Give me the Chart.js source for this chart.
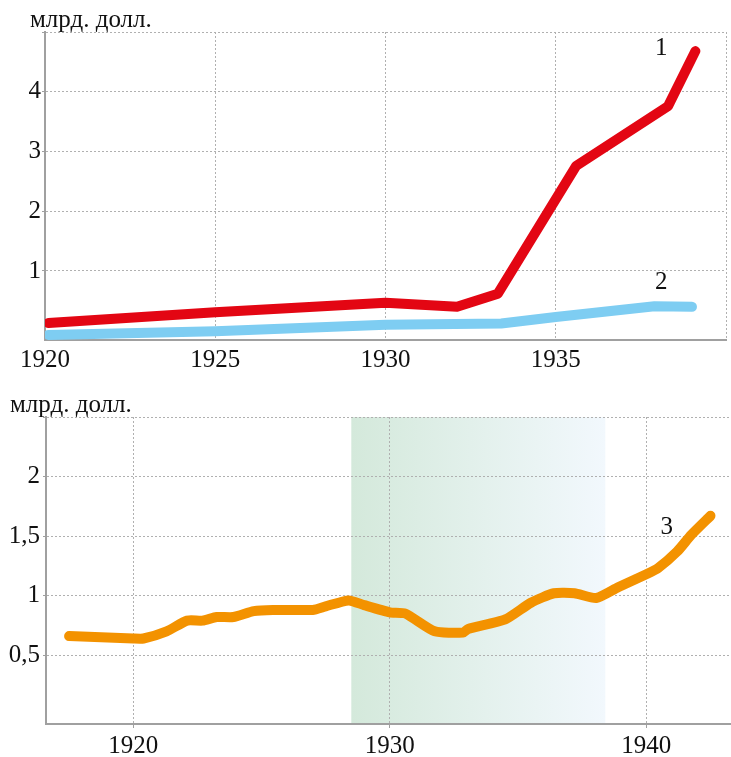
<!DOCTYPE html>
<html>
<head>
<meta charset="utf-8">
<script src="https://cdn.jsdelivr.net/npm/chart.js@4/dist/chart.umd.min.js"></script>
<style>
  body { margin: 0; background: #fff; }
  #wrap { position: relative; width: 731px; height: 757px; }
  #top { position: absolute; left: 0; top: 0; }
  #bottom { position: absolute; left: 0; top: 380px; }
</style>
</head>
<body>
<div id="wrap">
  <canvas id="top" width="731" height="380"></canvas>
  <canvas id="bottom" width="731" height="377"></canvas>
</div>
<script>
// top chart: series 1 (red) and 2 (blue)
const years1 = [1920.1, 1925, 1930, 1932.1, 1933.3, 1935.6, 1938.3, 1939.1];
const values1 = [0.13, 0.31, 0.47, 0.40, 0.62, 2.76, 3.76, 4.68];
const years2 = [1920.1, 1925, 1930, 1933.4, 1935, 1937.9, 1939.0];
const values2 = [-0.07, -0.01, 0.10, 0.12, 0.23, 0.41, 0.40];
const topXTicks = [1920, 1925, 1930, 1935, 1940];
const topYTicks = [1, 2, 3, 4, 5];

// bottom chart: series 3 (orange)
const years3 = [1917.5, 1920, 1920.4, 1921.3, 1922.1, 1922.7, 1923.25, 1923.9, 1924.7, 1925.45,
  1927.0, 1927.5, 1928.4, 1929.0, 1930.0, 1930.6, 1931.75, 1932.86, 1933.05, 1934.5,
  1935.5, 1936.4, 1937.2, 1938.05, 1938.9, 1940.0, 1940.45, 1941.2, 1941.75, 1942.5];
const values3 = [0.66, 0.64, 0.64, 0.70, 0.79, 0.79, 0.82, 0.82, 0.87, 0.88,
  0.88, 0.91, 0.96, 0.92, 0.86, 0.85, 0.70, 0.69, 0.72, 0.80,
  0.94, 1.02, 1.02, 0.98, 1.07, 1.18, 1.23, 1.37, 1.51, 1.67];
const bottomXTicks = [1920, 1930, 1940];
const bottomYTicks = [0.5, 1, 1.5, 2, 2.5];
const crisisYears = [1928.5, 1938.4];

const unitLabel = "млрд. долл.";
// series numbers, placed in data units
const topLabels = [{text: "1", x: 1938.1, y: 4.73}, {text: "2", x: 1938.1, y: 0.81}];
const bottomLabels = [{text: "3", x: 1940.8, y: 1.57}];

const FONT = "'Liberation Serif', 'DejaVu Serif', serif";
const FONT_SIZE = 25;
const textColor = "#111";
const gridColor = "#b0b0b0";
const axisColor = "#a0a0a0";

function toPoints(xs, ys) {
  return xs.map((x, i) => ({x: x, y: ys[i]}));
}

function lineSet(xs, ys, color, tension) {
  return {
    data: toPoints(xs, ys),
    borderColor: color,
    borderWidth: 10,
    borderCapStyle: "round",
    borderJoinStyle: "round",
    pointRadius: 0,
    tension: tension,
    fill: false,
  };
}

// draws unit text and the numbered series labels
function textPlugin(unitX, unitY, labels) {
  return {
    id: "texts",
    afterDraw(chart) {
      const ctx = chart.ctx;
      const xs = chart.scales.x, ys = chart.scales.y;
      ctx.save();
      ctx.fillStyle = textColor;
      ctx.font = FONT_SIZE + "px " + FONT;
      ctx.textBaseline = "alphabetic";
      ctx.textAlign = "left";
      ctx.fillText(unitLabel, unitX, unitY);
      ctx.textAlign = "center";
      ctx.textBaseline = "middle";
      labels.forEach(l => {
        ctx.fillText(l.text, xs.getPixelForValue(l.x), ys.getPixelForValue(l.y));
      });
      ctx.restore();
    }
  };
}

const bandPlugin = {
  id: "band",
  beforeDraw(chart) {
    const {ctx, chartArea} = chart;
    const xs = chart.scales.x;
    const x1 = xs.getPixelForValue(crisisYears[0]);
    const x2 = xs.getPixelForValue(crisisYears[1]);
    const g = ctx.createLinearGradient(x1, 0, x2, 0);
    g.addColorStop(0, "rgb(212,233,219)");
    g.addColorStop(1, "rgb(242,248,253)");
    ctx.save();
    ctx.fillStyle = g;
    ctx.fillRect(x1, chartArea.top, x2 - x1, chartArea.bottom - chartArea.top);
    ctx.restore();
  }
};

function axes(o) {
  return {
    x: {
      type: "linear",
      min: o.xMin,
      max: o.xMax,
      afterBuildTicks: s => { s.ticks = o.xTicks.map(v => ({value: v})); },
      afterFit: s => { s.height = o.xHeight; },
      ticks: {
        callback: v => (v === o.xHide ? "" : String(v)),
        font: {family: FONT, size: FONT_SIZE},
        color: textColor,
        padding: o.xPad,
        maxRotation: 0,
      },
      grid: {
        color: gridColor,
        lineWidth: 1,
        drawTicks: o.xTickMarks,
        tickLength: 4,
        tickColor: axisColor,
        tickBorderDash: [],
      },
      border: {color: axisColor, width: 2, dash: [2, 2]},
    },
    y: {
      min: o.yMin,
      max: o.yMax,
      afterBuildTicks: s => { s.ticks = o.yTicks.map(v => ({value: v})); },
      afterFit: s => { s.width = o.yWidth; },
      ticks: {
        callback: v => (v === o.yHide ? "" : String(v).replace(".", ",")),
        font: {family: FONT, size: FONT_SIZE},
        color: textColor,
        padding: o.yPad,
      },
      grid: {
        color: gridColor,
        lineWidth: 1,
        tickLength: 3,
        tickColor: axisColor,
        tickBorderDash: [],
      },
      border: {color: axisColor, width: 2, dash: [2, 2]},
    },
  };
}

const common = {
  responsive: false,
  animation: false,
  devicePixelRatio: 1,
  plugins: {legend: {display: false}, tooltip: {enabled: false}, title: {display: false}},
};

new Chart(document.getElementById("top").getContext("2d"), {
  type: "line",
  data: {
    datasets: [
      lineSet(years2, values2, "#7ecdf2", 0),
      lineSet(years1, values1, "#e30613", 0),
    ],
  },
  options: Object.assign({}, common, {
    layout: {padding: {top: 32, right: 1, left: 0, bottom: 0}},
    scales: axes({
      xMin: 1920, xMax: 1940, xTicks: topXTicks, xHide: 1940, xHeight: 40, xPad: 5, xTickMarks: false,
      yMin: -0.155, yMax: 5, yTicks: topYTicks, yHide: 5, yWidth: 45, yPad: 1,
    }),
  }),
  plugins: [textPlugin(30, 27, topLabels)],
});

new Chart(document.getElementById("bottom").getContext("2d"), {
  type: "line",
  data: {
    datasets: [lineSet(years3, values3, "#f39200", 0.2)],
  },
  options: Object.assign({}, common, {
    layout: {padding: {top: 37, right: 0, left: 0, bottom: 0}},
    scales: axes({
      xMin: 1916.6, xMax: 1943.3, xTicks: bottomXTicks, xHide: null, xHeight: 33, xPad: 3, xTickMarks: true,
      yMin: -0.078, yMax: 2.5, yTicks: bottomYTicks, yHide: 2.5, yWidth: 46, yPad: 3,
    }),
  }),
  plugins: [bandPlugin, textPlugin(10, 32, bottomLabels)],
});
</script>
</body>
</html>
